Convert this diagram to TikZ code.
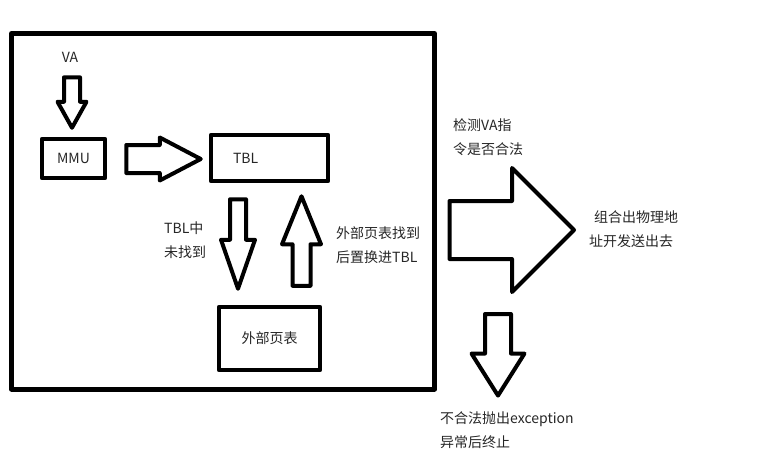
\documentclass[tikz,border=0pt]{standalone}
\usepackage{fontspec}
\setmainfont{Noto Sans CJK SC}
\usetikzlibrary{calc,positioning}

% block arrow from #1 to #2: shaft half width #3, head half width #4, head length #5
\newcommand\fatarrow[5]{%
  \coordinate (fa-s) at (#1);
  \coordinate (fa-e) at (#2);
  \draw[fat arrow] let \p1=(fa-s), \p2=(fa-e),
      \n1={atan2(\y2-\y1,\x2-\x1)}, \n2={veclen(\x2-\x1,\y2-\y1)} in
    [shift={(\p1)}, rotate=\n1]
    (0pt,-#3) -- (\n2-#5,-#3) -- (\n2-#5,-#4) -- (\n2,0pt)
    -- (\n2-#5,#4) -- (\n2-#5,#3) -- (0pt,#3) -- cycle;}

\begin{document}
\begin{tikzpicture}[x=1pt,y=-1pt,line join=round,
    every node/.style={font=\fontsize{14}{23.5}\selectfont, text=black!85},
    frame/.style={draw=black, line width=5pt, inner sep=0pt},
    unit/.style={draw=black, line width=4.5pt, inner sep=0pt},
    note/.style={align=left, anchor=west, inner sep=0pt},
    fat arrow/.style={draw=black, line width=4pt}]
  \useasboundingbox (0,0) rectangle (768,461);

  % CPU with MMU and TBL
  \node[frame, minimum width=423pt, minimum height=355.5pt] (cpu) at (223,211.25) {};
  \node[inner sep=0pt] (va) at (70,57.5) {VA};
  \node[unit, minimum width=63pt, minimum height=39pt] (mmu) at (73.5,158.5) {MMU};
  \node[unit, minimum width=117pt, minimum height=46pt, inner xsep=22pt,
        text width=73pt, align=left] (tbl) at (269.5,158) {TBL};
  \node[unit, minimum width=101pt, minimum height=63pt] (ext) at (269.5,338.5) {外部页表};

  % Labels
  \node[note] (miss) at (164,240) {TBL中\\未找到};
  \node[note] (hit) at (336,245) {外部页表找到\\后置换进TBL};
  \node[note] (check) at (453,137) {检测VA指\\令是否合法};
  \node[note] (phys) at (589,229) {\hspace*{5pt}组合出物理地\\址开发送出去};
  \node[note] (exc) at (440,430) {不合法抛出exception\\异常后终止};

  % Arrows
  \fatarrow{[xshift=2pt,yshift=-14.5pt]va.south}{[xshift=-1.5pt,yshift=9pt]mmu.north}{8pt}{14.5pt}{26pt}
  \fatarrow{[xshift=19pt,yshift=-0.5pt]mmu.east}{[xshift=-8pt,yshift=-1pt]tbl.west}{14pt}{21.5pt}{41pt}
  \fatarrow{[xshift=-31.5pt,yshift=-16pt]tbl.south}{[xshift=-31.5pt,yshift=16pt]ext.north}{8pt}{17pt}{49pt}
  \fatarrow{[xshift=32pt,yshift=19pt]ext.north}{[xshift=32pt,yshift=-13pt]tbl.south}{9pt}{19.5pt}{48pt}
  \fatarrow{[xshift=12.5pt,yshift=-18.75pt]cpu.east}{[xshift=-15pt,yshift=-1pt]phys.west}{29pt}{62pt}{62pt}
  \coordinate (fault) at (498,314);
  \fatarrow{fault}{[xshift=58pt,yshift=16pt]exc.north west}{13pt}{26.5pt}{42pt}
\end{tikzpicture}
\end{document}
